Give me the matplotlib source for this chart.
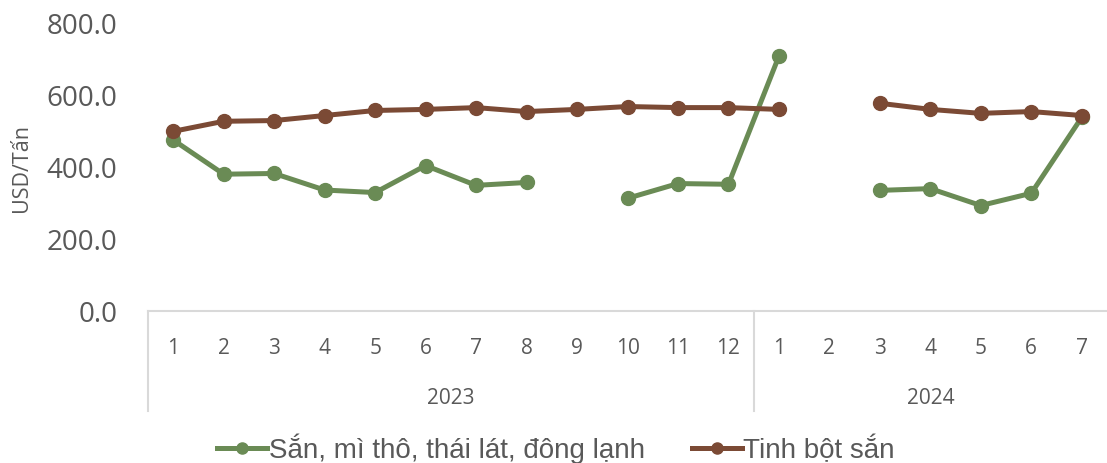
import numpy as np
import matplotlib.pyplot as plt
from matplotlib.lines import Line2D
import matplotlib.transforms as mtransforms

# data
years = ["2023", "2024"]
months_2023 = ["1", "2", "3", "4", "5", "6", "7", "8", "9", "10", "11", "12"]
months_2024 = ["1", "2", "3", "4", "5", "6", "7"]
month_labels = months_2023 + months_2024

san_mi = [475, 380, 382, 336, 329, 404, 349, 357, np.nan, 313, 354, 352,
          708, np.nan, 335, 340, 293, 327, 538]
tinh_bot = [499, 527, 529, 543, 557, 560, 565, 554, 560, 568, 565, 565,
            560, np.nan, 577, 560, 549, 554, 543]

name_san_mi = "Sắn, mì thô, thái lát, đông lạnh"
name_tinh_bot = "Tinh bột sắn"
y_label = "USD/Tấn"

GREEN = "#6A8B55"
BROWN = "#7B4A35"
GRID = "#D9D9D9"
TXT = "#595959"

fig = plt.figure(figsize=(11.07, 4.64), dpi=100)
ax = fig.add_axes([148 / 1107, 1 - 312 / 464, 1 - 148 / 1107, 288 / 464])

x = np.arange(len(month_labels))
ax.plot(x, san_mi, color=GREEN, lw=3.6, marker="o", ms=10, zorder=3)
ax.plot(x, tinh_bot, color=BROWN, lw=3.6, marker="o", ms=10, zorder=3)

ax.set_xlim(-0.5, len(month_labels) - 0.5)
ax.set_ylim(0, 800)
ax.set_yticks(np.arange(0, 801, 200))
ax.set_yticklabels([f"{v:.1f}" for v in np.arange(0, 801, 200)],
                   fontsize=20, color=TXT, family="Open Sans")
ax.tick_params(axis="y", length=0, pad=22)
ax.set_xticks([])
for s in ["left", "right", "top"]:
    ax.spines[s].set_visible(False)
ax.spines["bottom"].set_color(GRID)
ax.spines["bottom"].set_linewidth(1.5)
ax.set_ylabel(y_label, fontsize=15.5, color=TXT, family="Open Sans")
ax.yaxis.set_label_coords(-0.121, 0.5)

# multi-level category axis
trans = mtransforms.blended_transform_factory(ax.transData, ax.transAxes)
for i, m in enumerate(month_labels):
    ax.text(i, -0.128, m, transform=trans, ha="center", va="center",
            fontsize=15, color=TXT, family="Open Sans")

n23 = len(months_2023)
n24 = len(months_2024)
ax.text((n23 - 1) / 2, -0.30, years[0], transform=trans, ha="center",
        va="center", fontsize=15, color=TXT, family="Open Sans")
ax.text(n23 + (n24 - 1) / 2, -0.30, years[1], transform=trans, ha="center",
        va="center", fontsize=15, color=TXT, family="Open Sans")
for xb in [-0.5, n23 - 0.5]:
    ax.plot([xb, xb], [0, -0.347], transform=trans, color=GRID, lw=1.5,
            clip_on=False)

handles = [
    Line2D([], [], color=GREEN, lw=3.6, marker="o", ms=8),
    Line2D([], [], color=BROWN, lw=3.6, marker="o", ms=8),
]
leg = fig.legend(handles, [name_san_mi, name_tinh_bot], loc="center",
                 bbox_to_anchor=(556 / 1107, 1 - 449 / 464), ncol=2,
                 frameon=False, handlelength=1.8, handletextpad=0.05,
                 columnspacing=1.7,
                 prop={"family": "Liberation Sans", "size": 20})
for t in leg.get_texts():
    t.set_color(TXT)

fig.savefig("out.png", dpi=100)
